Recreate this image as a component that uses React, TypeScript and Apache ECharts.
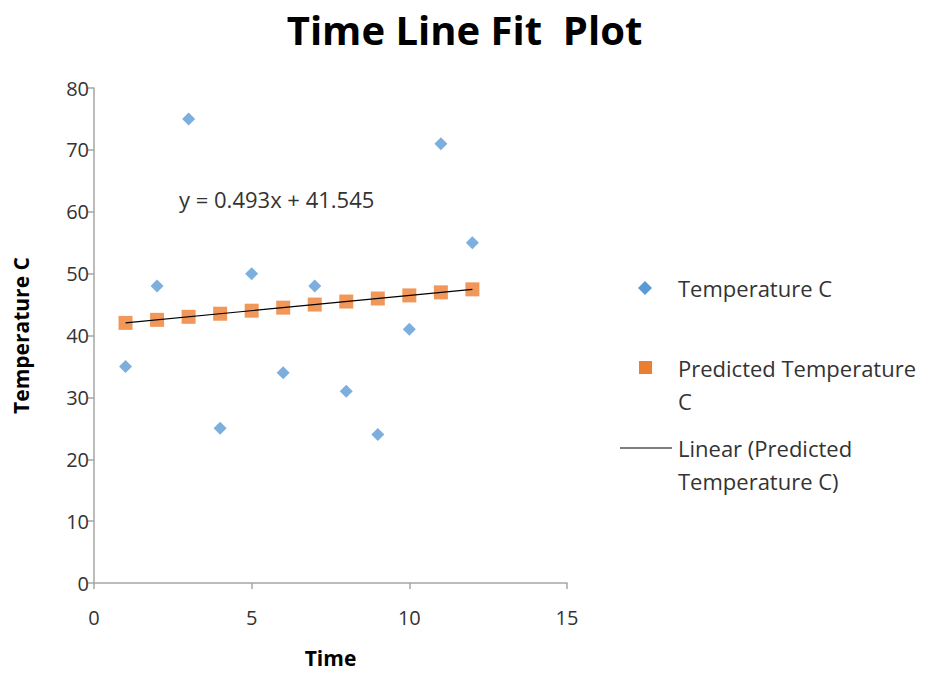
import React, { useEffect, useRef } from "react";
import * as echarts from "echarts";

const timeValues = [1, 2, 3, 4, 5, 6, 7, 8, 9, 10, 11, 12];
const temperatureC = [35, 48, 75, 25, 50, 34, 48, 31, 24, 41, 71, 55];
const predictedC = [42.04, 42.53, 43.02, 43.52, 44.01, 44.5, 45.0, 45.49, 45.98, 46.48, 46.97, 47.46];
const trendEnds = [[1, 42.04], [12, 47.46]];
const equationText = "y = 0.493x + 41.545";
const titleText = "Time Line Fit  Plot";
const legendNames = ["Temperature C", "Predicted Temperature C", "Linear (Predicted Temperature C)"];
const legendLines = [["Temperature C"], ["Predicted Temperature", "C"], ["Linear (Predicted", "Temperature C)"]];

const FONT = "'Open Sans', 'Noto Sans', sans-serif";
const BLUE = "#5B9BD5";
const ORANGE = "#ED7D31";
const AXIS = "#A6A6A6";
const TEXT = "#333333";

export default function App() {
  const ref = useRef<HTMLDivElement>(null);
  useEffect(() => {
    document.body.style.margin = "0";
    const chart = echarts.init(ref.current!, null, { renderer: "svg" });
    const textLine = (s: string, x: number, y: number) => ({
      type: "text",
      x,
      y,
      style: { text: s, font: `22px ${FONT}`, fill: TEXT, verticalAlign: "middle", align: "left" },
    });
    chart.setOption({
      animation: false,
      backgroundColor: "#ffffff",
      title: {
        text: titleText,
        left: "center",
        top: 4,
        textStyle: { fontFamily: FONT, fontSize: 40, fontWeight: "bold", color: "#000" },
      },
      grid: { left: 94, right: 362, top: 88, bottom: 88, containLabel: false },
      xAxis: {
        type: "value",
        min: 0,
        max: 15,
        interval: 5,
        name: "Time",
        nameLocation: "middle",
        nameGap: 64,
        nameTextStyle: { fontFamily: FONT, fontSize: 21, fontWeight: "bold", color: "#000" },
        axisLine: { show: true, lineStyle: { color: AXIS, width: 1.5 } },
        axisTick: { show: true, length: 6, lineStyle: { color: AXIS, width: 1.5 } },
        axisLabel: { fontFamily: FONT, fontSize: 20, color: TEXT, margin: 24 },
        splitLine: { show: false },
      },
      yAxis: {
        type: "value",
        min: 0,
        max: 80,
        interval: 10,
        name: "Temperature C",
        nameLocation: "middle",
        nameGap: 63,
        nameTextStyle: { fontFamily: FONT, fontSize: 21, fontWeight: "bold", color: "#000" },
        axisLine: { show: true, onZero: false, lineStyle: { color: AXIS, width: 1.5 } },
        axisTick: { show: true, length: 6, lineStyle: { color: AXIS, width: 1.5 } },
        axisLabel: { fontFamily: FONT, fontSize: 20, color: TEXT, margin: 5 },
        splitLine: { show: false },
      },
      series: [
        {
          name: legendNames[0],
          type: "scatter",
          symbol: "diamond",
          symbolSize: [13, 13],
          itemStyle: { color: BLUE },
          data: timeValues.map((t, i) => [t, temperatureC[i]]),
          z: 3,
        },
        {
          name: legendNames[1],
          type: "scatter",
          symbol: "rect",
          symbolSize: 14,
          itemStyle: { color: ORANGE },
          data: timeValues.map((t, i) => [t, predictedC[i]]),
          z: 2,
        },
        {
          name: legendNames[2],
          type: "line",
          showSymbol: false,
          symbol: "none",
          lineStyle: { color: "#000", width: 1.2 },
          data: trendEnds,
          z: 4,
        },
      ],
      graphic: [
        {
          type: "text",
          x: 179,
          y: 199,
          style: { text: equationText, font: `22px ${FONT}`, fill: TEXT, verticalAlign: "middle", align: "left" },
        },
        {
          type: "polygon",
          shape: { points: [[645, 281], [652, 288], [645, 295], [638, 288]] },
          style: { fill: BLUE },
        },
        textLine(legendLines[0][0], 678, 288),
        {
          type: "rect",
          shape: { x: 639, y: 361, width: 13, height: 13 },
          style: { fill: ORANGE },
        },
        textLine(legendLines[1][0], 678, 368),
        textLine(legendLines[1][1], 678, 401),
        {
          type: "line",
          shape: { x1: 620, y1: 448, x2: 672, y2: 448 },
          style: { stroke: "#000", lineWidth: 1.2 },
        },
        textLine(legendLines[2][0], 678, 448),
        textLine(legendLines[2][1], 678, 481),
      ],
    });
    return () => chart.dispose();
  }, []);
  return <div ref={ref} style={{ width: 929, height: 673 }} />;
}
